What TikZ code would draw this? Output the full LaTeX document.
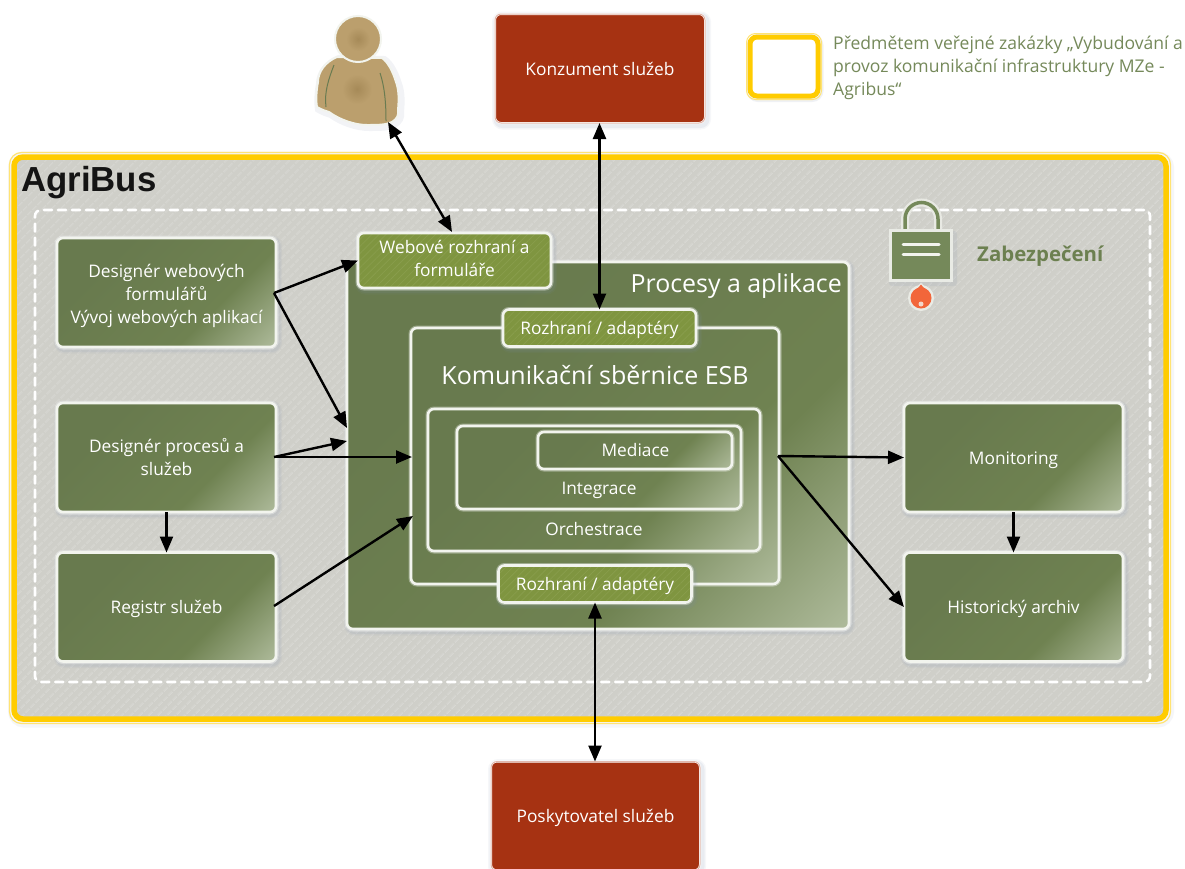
\documentclass[tikz,border=0pt]{standalone}
\usepackage{fontspec}
\setmainfont{Open Sans}
\newfontfamily\titlefont{Liberation Sans}
\usetikzlibrary{arrows.meta,patterns.meta,calc}
\definecolor{gdark}{HTML}{687A4E}
\definecolor{gmid}{HTML}{6F8251}
\definecolor{glight}{HTML}{BCC7AB}
\definecolor{gbox}{HTML}{7F9540}
\definecolor{ghatch}{HTML}{889D4C}
\definecolor{redbox}{HTML}{A63212}
\definecolor{gold}{HTML}{FFCC00}
\definecolor{bggray}{HTML}{CFCFC9}
\definecolor{bghatch}{HTML}{D6D6D1}
\definecolor{legendgreen}{HTML}{75895A}
\definecolor{sectgreen}{HTML}{6C8050}
\definecolor{tan}{HTML}{BB9F6D}
\definecolor{tandark}{HTML}{A68A58}
\definecolor{edgewhite}{HTML}{F2F4EE}
\definecolor{shadowblue}{HTML}{8090B0}
\definecolor{flame}{HTML}{F2663A}
\pgfdeclareverticalshading{greenshade}{100bp}{color(0bp)=(gdark); color(30bp)=(gdark); color(64bp)=(gmid); color(90bp)=(glight); color(100bp)=(glight)}
\newcommand{\tp}[1]{\rule{0pt}{#1pt}}
\newcommand{\bt}[1]{\rule[-#1pt]{0pt}{0pt}}
\tikzset{
  softshadow/.style={preaction={draw=shadowblue,draw opacity=.07,line width=9pt,fill=none,transform canvas={shift={(1.5pt,-2pt)}}},
                     preaction={draw=shadowblue,draw opacity=.10,line width=6pt,fill=none,transform canvas={shift={(1.5pt,-2pt)}}}},
  halo/.style={preaction={draw=white,draw opacity=.35,line width=5pt,fill=none}},
  txt/.style={font=\fontsize{17.3}{23}\selectfont},
  allboxes/.style={rounded corners=6pt,line width=2.6pt,draw=edgewhite,align=center,text=white,txt,inner sep=0pt,outer sep=0pt},
  greenbox/.style={allboxes,softshadow,halo,shading=greenshade,shading angle=225},
  innerbox/.style={allboxes,halo,shading=greenshade,shading angle=225},
  adapterbox/.style={rounded corners=6pt,line width=2.6pt,align=center,text=white,txt,inner sep=0pt,outer sep=0pt,softshadow,halo,fill=gbox,
     postaction={pattern={Lines[angle=45,distance=5pt,line width=.8pt]},pattern color=ghatch},postaction={draw=edgewhite,line width=2.6pt}},
  redsq/.style={allboxes,softshadow,fill=redbox,draw=white,line width=2pt,postaction={draw=redbox!35!white,line width=1pt}},
  link/.style={line width=2.4pt,draw=black},
  both/.style={link,{Triangle[length=16pt,width=13pt]}-{Triangle[length=16pt,width=13pt]}},
  one/.style={link,-{Triangle[length=16pt,width=13pt]}},
  lbl/.style={text=white,txt,inner sep=0pt,align=center},
}
\begin{document}
\begin{tikzpicture}[x=1pt,y=-1pt]
\useasboundingbox (0,0) rectangle (1185,868);
\fill[white] (0,0) rectangle (1185,868);

% main frame
\node[rounded corners=9pt,line width=5pt,fill=bggray,minimum width=1152,minimum height=562,inner sep=0pt,
  preaction={draw=shadowblue,draw opacity=.08,line width=14pt,transform canvas={shift={(1pt,-1.5pt)}}},
  postaction={pattern={Lines[angle=45,distance=6.5pt,line width=1.5pt]},pattern color=bghatch},
  postaction={draw=gold,line width=5.5pt}] (frame) at (590,438) {};
\draw[rounded corners=12pt,draw=gold!55!white,line width=1.2pt] (9.5,152.5) rectangle (1170.5,723.5);
\node[anchor=west,inner sep=0pt,font=\titlefont\bfseries\fontsize{34.8}{35}\selectfont,text=black!92] (title) at (21,183) {AgriBus};

% security dashed frame
\node[rounded corners=6pt,draw=white,line width=2.6pt,dash pattern=on 8pt off 6pt,line cap=round,minimum width=1115,minimum height=472,inner sep=0pt] (sec) at (592.5,446) {};

% big green area
\node[greenbox,minimum width=502,minimum height=367] (proc) at (598,445.5) {};
\node[anchor=east,lbl,font=\fontsize{24.9}{25}\selectfont] (proct) at (842,286) {Procesy a aplikace};

% ESB
\node[innerbox,minimum width=368,minimum height=256] (esb) at (595,456) {};
\node[lbl,font=\fontsize{25}{25}\selectfont] (esbt) at (595,375) {Komunikační sběrnice ESB};
\node[innerbox,minimum width=332,minimum height=142] (orch) at (594,480) {};
\node[lbl] (orcht) at (594,529.5) {Orchestrace};
\node[innerbox,minimum width=284,minimum height=83] (integ) at (599,467.5) {};
\node[lbl] (integt) at (599,490) {Integrace};
\node[innerbox,minimum width=194,minimum height=37] (med) at (635,450.5) {};
\node[lbl] (medt) at (635.5,450) {Mediace};

% adapters
\node[adapterbox,minimum width=193,minimum height=55] (web) at (454.5,260.5) {Webové rozhraní a\\formuláře\bt{4}};
\node[adapterbox,minimum width=193,minimum height=37] (ratop) at (599.5,328) {\tp{18}Rozhraní / adaptéry};
\node[adapterbox,minimum width=193,minimum height=37] (rabot) at (595,584) {\tp{18}Rozhraní / adaptéry};

% left and right boxes
\node[greenbox,minimum width=219,minimum height=109] (dweb) at (166.5,292.5) {\tp{20}Designér webových\\formulářů\\Vývoj webových aplikací};
\node[greenbox,minimum width=219,minimum height=109] (dproc) at (166.5,457.5) {Designér procesů a\\služeb\bt{2}};
\node[greenbox,minimum width=219,minimum height=109] (reg) at (166.5,607) {\tp{18}Registr služeb};
\node[greenbox,minimum width=219,minimum height=109] (mon) at (1013.5,457.5) {\tp{18}Monitoring};
\node[greenbox,minimum width=219,minimum height=109] (arch) at (1013.5,607) {\tp{18}Historický archiv};

% red boxes
\node[redsq,minimum width=210,minimum height=109] (kons) at (600,68.5) {Konzument služeb};
\node[redsq,minimum width=209,minimum height=109] (posk) at (595.5,816) {\tp{18}Poskytovatel služeb};

% legend
\node[rounded corners=7pt,draw=gold,line width=5pt,fill=white,minimum width=68,minimum height=59,inner sep=0pt,
  preaction={draw=shadowblue,draw opacity=.12,line width=9pt,transform canvas={shift={(1pt,-1.5pt)}}}] (leg) at (784,66.5) {};
\draw[rounded corners=9pt,draw=gold!55!white,line width=1pt] (746.5,33.5) rectangle (821.5,99.5);
\node[anchor=north west,inner sep=0pt,align=left,text=legendgreen,font=\fontsize{17.55}{23}\selectfont] (legt) at (833,36) {Předmětem veřejné zakázky „Vybudování a\\provoz komunikační infrastruktury MZe -\\Agribus“};

% person
\draw[edgewhite,line width=2pt,fill=tan,preaction={draw=shadowblue,draw opacity=.1,line width=8pt,transform canvas={shift={(2pt,-2pt)}}}]
  (337,57) .. controls (325,62) and (318,72) .. (318,82) .. controls (316,92) and (316,102) .. (317,107)
  .. controls (322,110) and (326,111) .. (329,112) .. controls (340,120) and (355,125) .. (367,125)
  .. controls (378,125) and (386,125) .. (392,122) .. controls (397,119) and (399,115) .. (398,110)
  .. controls (399,100) and (399,90) .. (396,82) .. controls (393,72) and (388,62) .. (382,58) -- cycle;
\shade[inner color=tandark,outer color=tan] (357,89) circle (15);
\draw[legendgreen!90!black,line width=1pt] (334,65) .. controls (329,78) and (324,92) .. (326,107);
\draw[legendgreen!90!black,line width=1pt] (380,73) .. controls (385,88) and (386,105) .. (386,121);
\draw[edgewhite,line width=2pt,fill=tan] (358,39) circle (23);
\shade[inner color=tandark,outer color=tan] (358,39) circle (12);
\coordinate (person) at (388,122);

% lock
\draw[edgewhite!70!bggray,line width=8pt,line cap=round] (905,232) -- (905,219) arc[start angle=180,end angle=360,radius=16.5] -- (938,232);
\draw[legendgreen,line width=3.5pt] (905,232) -- (905,219) arc[start angle=180,end angle=360,radius=16.5] -- (938,232);
\fill[shadowblue,opacity=.12,rounded corners=3pt] (889,231) rectangle (957,286);
\draw[draw=edgewhite!75!bggray,line width=3pt,fill=legendgreen] (890.5,230.5) rectangle (951.5,280.5);
\draw[edgewhite,line width=3pt,line cap=round] (903,244.5) -- (939,244.5);
\draw[edgewhite,line width=3pt,line cap=round] (903,254.5) -- (939,254.5);
\fill[edgewhite!75!bggray] (921,283) -- (912,291) -- (930,291) -- cycle;
\fill[edgewhite!75!bggray] (921,298) circle (13);
\fill[flame] (921,298) circle (10.5);
\fill[flame] (921,284.5) .. controls (923,288) and (928,290) .. (929,293) -- (913,293) .. controls (914,290) and (919,288) .. (921,284.5) -- cycle;
\fill[edgewhite!80!flame] (921,304) circle (2.5);
\node[anchor=west,inner sep=0pt,text=sectgreen,font=\bfseries\fontsize{20.4}{21}\selectfont] (sect) at (977,256.5) {Zabezpečení};

% connector helpers
\coordinate (j1) at (274,293);
\coordinate (j2) at (274,457);
\coordinate (j3) at (778,456);
\coordinate (pe1) at (347,428);
\coordinate (pe2) at (347,441);
\coordinate (e1) at (412,457);
\coordinate (e2) at (413,516);
\coordinate (regs) at (274,606);
\coordinate (webtop) at (452,232);

% connectors
\draw[both] (person) -- (webtop);
\draw[both] (kons.south -| ratop.north) -- (ratop.north);
\draw[both] (rabot.south) -- (rabot.south |- posk.north);
\draw[one] (j1) -- (web.west);
\draw[one] (j1) -- (pe1);
\draw[one] (j2) -- (pe2);
\draw[one] (j2) -- (e1);
\draw[one] (regs) -- (e2);
\draw[one] (dproc.south) -- (dproc.south |- reg.north);
\draw[one] (j3) -- (mon.west);
\draw[one] (j3) -- (arch.west);
\draw[one] (mon.south) -- (arch.north);
\end{tikzpicture}
\end{document}
